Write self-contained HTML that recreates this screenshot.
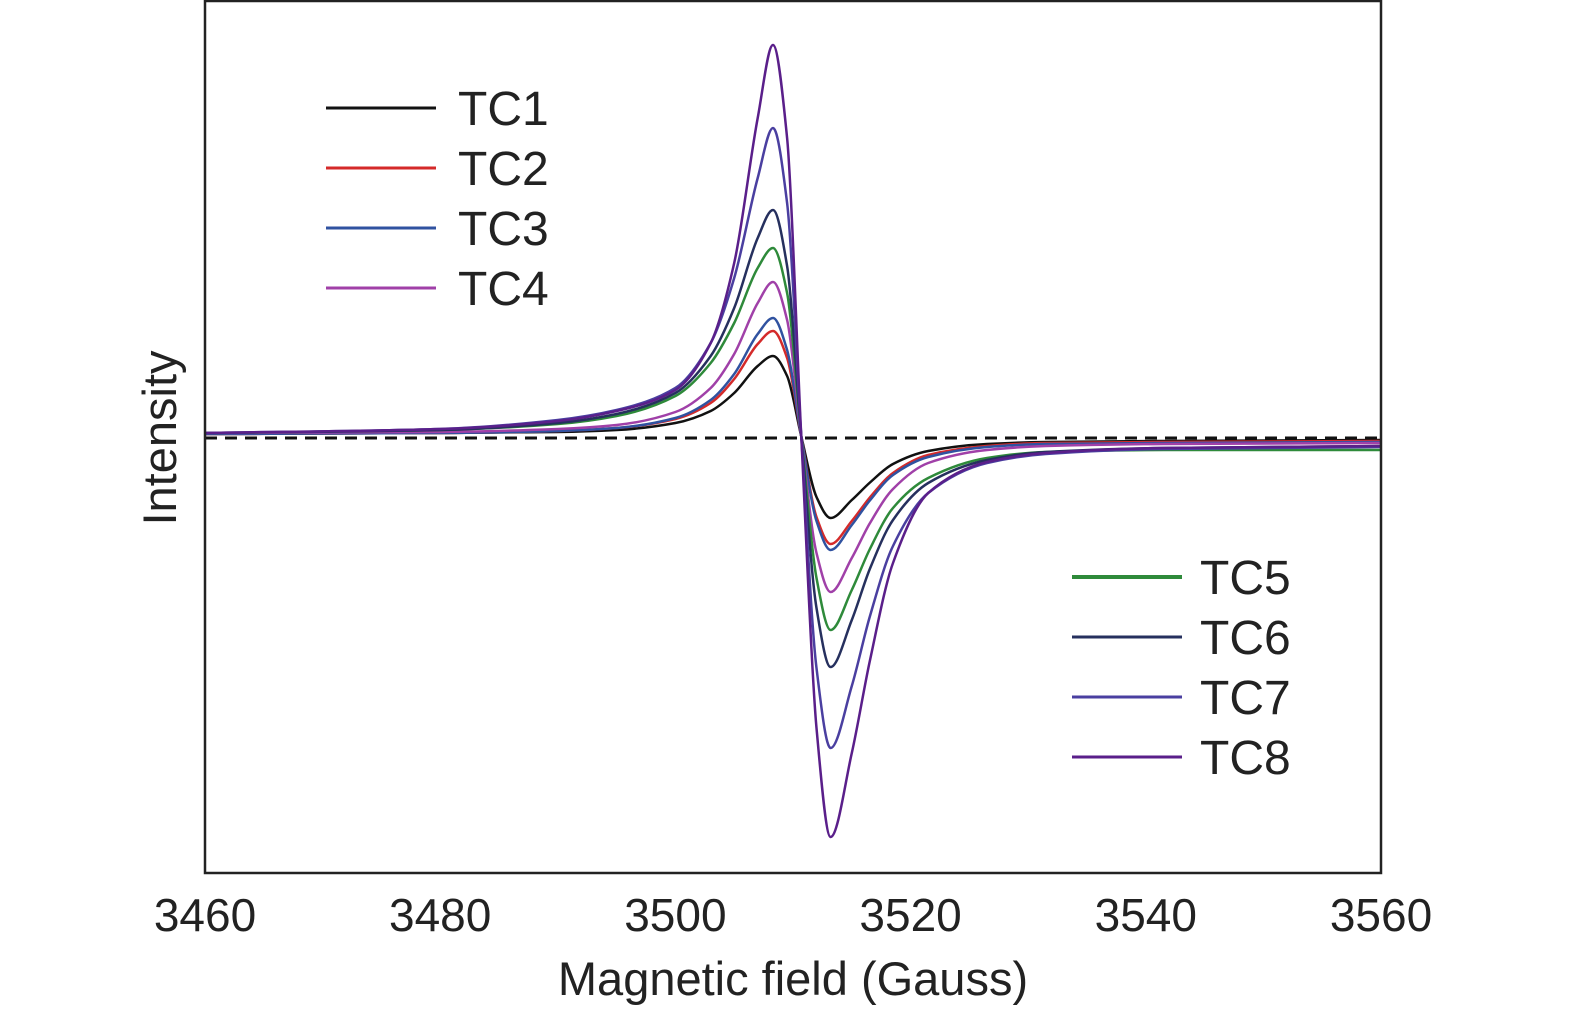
<!DOCTYPE html>
<html><head><meta charset="utf-8"><style>
html,body{margin:0;padding:0;background:#fff;}
svg{display:block;font-family:"Liberation Sans",sans-serif;}
</style></head><body>
<svg id="chart" width="1575" height="1013" viewBox="0 0 1575 1013" xmlns="http://www.w3.org/2000/svg">
<g id="plot"></g>
<rect x="205" y="1" width="1176" height="872" fill="none" stroke="#222" stroke-width="2.5"/>
<g id="xticks" font-size="46" fill="#222" text-anchor="middle"></g>
<text x="793" y="995" font-size="47" fill="#222" text-anchor="middle">Magnetic field (Gauss)</text>
<text transform="translate(176,438) rotate(-90)" font-size="47" fill="#222" text-anchor="middle">Intensity</text>
<g id="legend" font-size="48" fill="#222"></g>
</svg>
<script>
const xs = [3460,3480,3490,3495,3500,3503,3505,3507,3508.3,3509.5,3510.7,3512,3513.2,3515,3516.5,3518.5,3521.5,3526.5,3531.5,3541.5,3560];
const seriesNames = ["TC1","TC2","TC3","TC4","TC5","TC6","TC7","TC8"];
const tc1 = [4,5,6,8,15,27,45,72,82,62,2,-59,-80,-62,-45,-26,-13,-6,-4,-3,-2];
const tc2 = [4,5,7,10,19,35,59,94,107,80,2,-79,-106,-83,-60,-35,-17,-8,-5,-4,-3];
const tc3 = [4,5,7,10,20,38,64,104,120,88,2,-83,-112,-87,-63,-37,-19,-9,-6,-5,-4];
const tc4 = [5,6,9,13,26,50,84,135,156,118,2,-115,-154,-120,-86,-51,-25,-12,-8,-6,-5];
const tc5 = [5,8,14,22,42,75,115,170,190,145,3,-140,-192,-152,-112,-70,-40,-20,-14,-12,-12];
const tc6 = [5,8,15,24,45,82,130,200,228,172,3,-170,-229,-182,-132,-82,-45,-22,-14,-10,-8];
const tc7 = [5,9,18,28,50,95,160,260,310,235,3,-230,-310,-248,-180,-108,-55,-25,-16,-11,-9];
const tc8 = [5,9,17,27,48,95,175,320,393,300,3,-290,-399,-315,-225,-125,-55,-24,-15,-10,-8];
const xTicks = [3460,3480,3500,3520,3540,3560];
const colors = ["#111111","#d42a2a","#3052a0","#a040a8","#2e8a3a","#26305e","#4a3fa0","#5a1f8a"];
const allSeries = [tc1,tc2,tc3,tc4,tc5,tc6,tc7,tc8];

const NS="http://www.w3.org/2000/svg";
const X0=3460,X1=3560,PX0=205,PX1=1381;
const xScale=v=>PX0+(v-X0)/(X1-X0)*(PX1-PX0);
const yScale=v=>438-v;
function mk(tag,attrs,parent){const e=document.createElementNS(NS,tag);for(const k in attrs)e.setAttribute(k,attrs[k]);parent.appendChild(e);return e;}
function monotonePath(pts){
  const n=pts.length,dx=[],m=[],t=[];
  for(let i=0;i<n-1;i++){dx[i]=pts[i+1][0]-pts[i][0];m[i]=(pts[i+1][1]-pts[i][1])/dx[i];}
  t[0]=m[0];t[n-1]=m[n-2];
  for(let i=1;i<n-1;i++){
    if(m[i-1]*m[i]<=0)t[i]=0;
    else{const w1=2*dx[i]+dx[i-1],w2=dx[i]+2*dx[i-1];t[i]=(w1+w2)/(w1/m[i-1]+w2/m[i]);}
  }
  let d=`M${pts[0][0].toFixed(1)},${pts[0][1].toFixed(1)}`;
  for(let i=0;i<n-1;i++){
    const h=dx[i]/3;
    d+=` C${(pts[i][0]+h).toFixed(1)},${(pts[i][1]+t[i]*h).toFixed(1)} ${(pts[i+1][0]-h).toFixed(1)},${(pts[i+1][1]-t[i+1]*h).toFixed(1)} ${pts[i+1][0].toFixed(1)},${pts[i+1][1].toFixed(1)}`;
  }
  return d;
}
const plot=document.getElementById('plot');
const base=mk('line',{x1:PX0,x2:PX1,y1:yScale(0),y2:yScale(0),stroke:'#111','stroke-width':3,'stroke-dasharray':'12,8'},plot);


allSeries.forEach((s,i)=>{
  const pts=s.map((v,j)=>[xScale(xs[j]),yScale(v)]);
  const p=mk('path',{d:monotonePath(pts),fill:'none',stroke:colors[i],'stroke-width':2.5},plot);
  
  
});
const xt=document.getElementById('xticks');
xTicks.forEach(t=>{
  const tx=mk('text',{x:xScale(t),y:931},xt);tx.textContent=t;
  
  
});
const lg=document.getElementById('legend');
seriesNames.forEach((n,i)=>{
  const left=i<4;
  const lx=left?326:1072, ty=(left?108:577)+(i%4)*60, tx=left?458:1200;
  const ln=mk('line',{x1:lx,x2:lx+110,y1:ty,y2:ty,stroke:colors[i],'stroke-width':i==4?4:3},lg);
  
  
  const t=mk('text',{x:tx,y:ty+17},lg);t.textContent=n;
  
  
});
</script>
</body></html>
